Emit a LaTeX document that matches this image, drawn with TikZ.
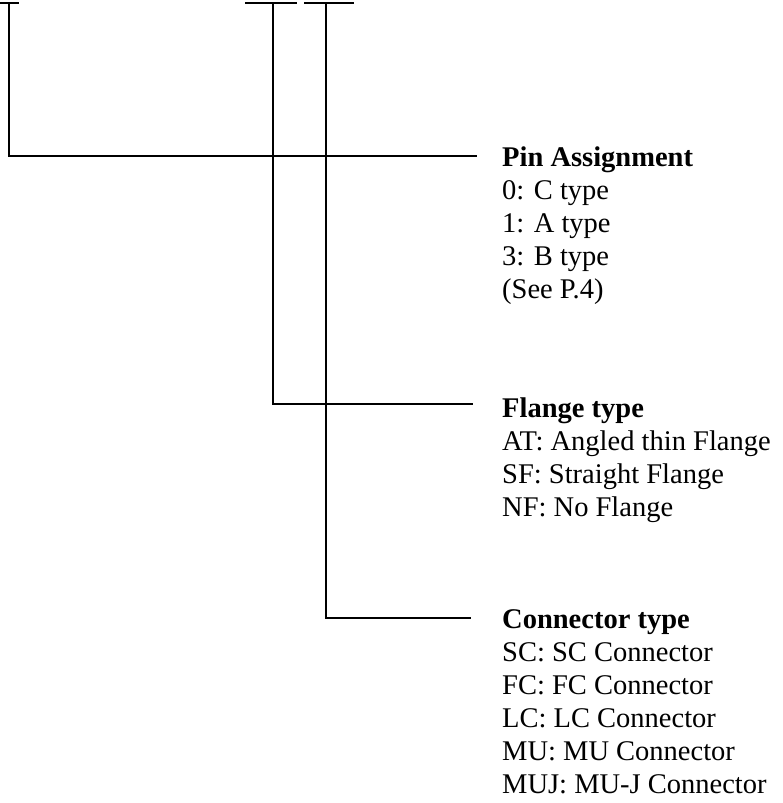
\documentclass[tikz,border=0pt]{standalone}
\usepackage{fontspec}
\setmainfont{Liberation Serif}
\begin{document}
\begin{tikzpicture}[x=1pt,y=-1pt,
  wire/.style={line width=1.6pt,line cap=rect},
  txt/.style={anchor=base west,inner sep=0pt,font=\fontsize{28.5}{33}\selectfont},
  hdr/.style={txt,font=\fontsize{28.5}{33}\selectfont\bfseries}]
\useasboundingbox (0,0) rectangle (783,803);
% tops of the three branches
\coordinate (t1l) at (0,3);   \coordinate (t1r) at (18,3);   \coordinate (t1) at (9,3);
\coordinate (t2l) at (246,3); \coordinate (t2r) at (296,3);  \coordinate (t2) at (273,3);
\coordinate (t3l) at (305,3); \coordinate (t3r) at (353,3);  \coordinate (t3) at (326,3);
% junctions and free ends
\coordinate (j1) at (9,156);   \coordinate (e1) at (476,156);
\coordinate (j2) at (273,404); \coordinate (e2) at (472,404);
\coordinate (j3) at (326,618); \coordinate (e3) at (470,618);
% text blocks
\node[hdr] (pin) at (502,166) {Pin Assignment};
\node[txt] (pin0) at (502,199) {0: C type};
\node[txt] (pin1) at (502,232) {1: A type};
\node[txt] (pin3) at (502,265) {3: B type};
\node[txt] (pinp) at (502,298) {(See P.4)};
\node[hdr] (fl) at (502,417) {Flange type};
\node[txt] (flat) at (502,450) {AT: Angled thin Flange};
\node[txt] (flsf) at (502,483) {SF: Straight Flange};
\node[txt] (flnf) at (502,516) {NF: No Flange};
\node[hdr] (co) at (502,628) {Connector type};
\node[txt] (cosc) at (502,661) {SC: SC Connector};
\node[txt] (cofc) at (502,694) {FC: FC Connector};
\node[txt] (colc) at (502,727) {LC: LC Connector};
\node[txt] (comu) at (502,760) {MU: MU Connector};
\node[txt] (comj) at (502,793) {MUJ: MU-J Connector};
% connectors
\draw[wire] (t1l) -- (t1r);
\draw[wire] (t2l) -- (t2r);
\draw[wire] (t3l) -- (t3r);
\draw[wire] (t1) -- (j1) -- (e1);
\draw[wire] (t2) -- (j2) -- (e2);
\draw[wire] (t3) -- (j3) -- (e3);
\end{tikzpicture}
\end{document}
